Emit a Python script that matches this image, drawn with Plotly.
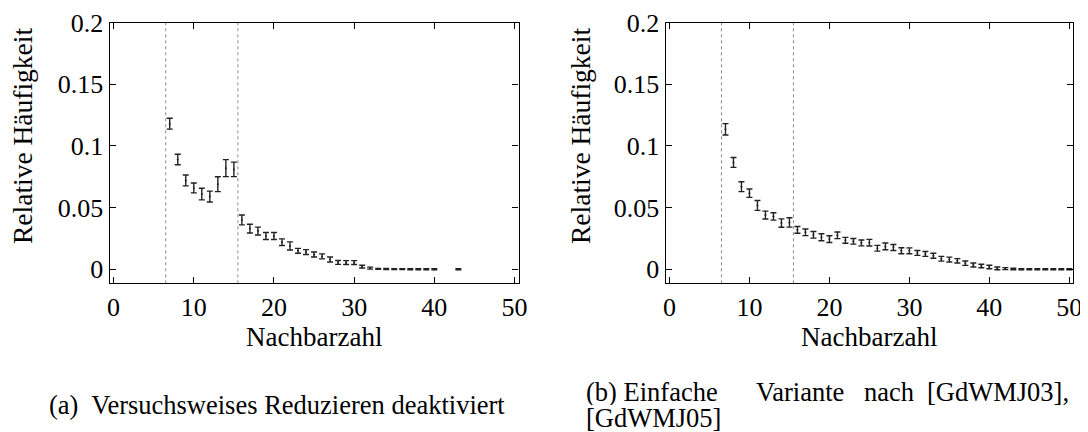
import plotly.graph_objects as go

# ---------------- data ----------------
x_a = [7, 8, 9, 10, 11, 12, 13, 14, 15, 16, 17, 18, 19, 20, 21, 22, 23, 24, 25, 26,
       27, 28, 29, 30, 31, 32, 33, 34, 35, 36, 37, 38, 39, 40, 43]
y_a = [0.118, 0.089, 0.072, 0.066, 0.061, 0.059, 0.069, 0.082, 0.081, 0.040,
       0.033, 0.031, 0.027, 0.027, 0.022, 0.019, 0.015, 0.014, 0.012, 0.0105,
       0.008, 0.0056, 0.0055, 0.0055, 0.0022, 0.001, 0.0004, 0.0003, 0.0002, 0.0002,
       0.0001, 0.0001, 0.0001, 0.0001, 0.0001]
e_a = [0.0044, 0.0043, 0.0044, 0.004, 0.0047, 0.0044, 0.006, 0.0069, 0.0059, 0.004,
       0.0036, 0.0032, 0.0028, 0.0028, 0.0027, 0.0033, 0.002, 0.002, 0.002, 0.002,
       0.002, 0.0016, 0.0016, 0.0016, 0.0011, 0.0008, 0.0004, 0.0004, 0.0004, 0.0004,
       0.0004, 0.0004, 0.0004, 0.0004, 0.0004]

x_b = list(range(7, 51))
y_b = [0.1135, 0.0866, 0.067, 0.0617, 0.0518, 0.044, 0.0429, 0.0375, 0.038, 0.032,
       0.030, 0.028, 0.026, 0.0245, 0.0276, 0.0235, 0.0227, 0.0214, 0.0216, 0.0171,
       0.0186, 0.0177, 0.0151, 0.015, 0.0133, 0.0125, 0.011, 0.0086, 0.0079, 0.0069,
       0.005, 0.0035, 0.0027, 0.0019, 0.0008, 0.0006, 0.0003, 0.0001, 0.0001, 0.0001,
       0.0001, 0.0001, 0.0001, 0.0001]
e_b = [0.0046, 0.004, 0.004, 0.0034, 0.004, 0.0032, 0.003, 0.0034, 0.0038, 0.0027,
       0.0027, 0.0027, 0.0028, 0.0027, 0.0027, 0.0024, 0.0023, 0.0024, 0.0027, 0.0023,
       0.0027, 0.0024, 0.0024, 0.0024, 0.002, 0.002, 0.002, 0.0019, 0.002, 0.0018,
       0.0018, 0.0016, 0.0014, 0.0014, 0.0011, 0.0008, 0.0006, 0.0004, 0.0004, 0.0004,
       0.0004, 0.0004, 0.0004, 0.0004]

phase_lines = [6.5, 15.5]
x_ticks = [0, 10, 20, 30, 40, 50]
y_ticks = [0, 0.05, 0.1, 0.15, 0.2]
y_tick_text = ["0", "0.05", "0.1", "0.15", "0.2"]
x_title = "Nachbarzahl"
y_title = "Relative Häufigkeit"
caption_a = "(a)  Versuchsweises Reduzieren deaktiviert"
caption_b_words = ["(b) Einfache", "Variante", "nach", "[GdWMJ03],"]
caption_b_line2 = "[GdWMJ05]"

W, H = 1088, 432
OFF = 8  # page body margin that shifts the figure
FONT = "Liberation Serif"
FS = 26
INK = "#222222"

fig = go.Figure()
for xs, ys, es, xa, ya in [(x_a, y_a, e_a, "x", "y"), (x_b, y_b, e_b, "x2", "y2")]:
    fig.add_trace(go.Scatter(
        x=xs, y=ys, mode="markers", xaxis=xa, yaxis=ya,
        marker=dict(size=2, color=INK),
        error_y=dict(type="data", array=es, visible=True, color=INK,
                     thickness=1.4, width=3),
        showlegend=False, hoverinfo="skip"))

def px_x(p):
    return (p - OFF) / W

def px_y(p):
    return 1 - (p - OFF) / H

ydom = [px_y(283.3), px_y(22.5)]
axis_common = dict(showline=True, linecolor="black", linewidth=1.3, mirror="ticks",
                   ticks="inside", ticklen=6, tickwidth=1.2, tickcolor="black",
                   showgrid=False, zeroline=False, automargin=False,
                   tickfont=dict(family=FONT, size=FS, color="black"))
xr = [-0.5, 50.5]
yr = [-0.0113, 0.2]

fig.update_layout(
    template="none",
    width=W, height=H, margin=dict(l=0, r=0, t=0, b=0, pad=0),
    paper_bgcolor="white", plot_bgcolor="white",
    font=dict(family=FONT, size=FS, color="black"),
    xaxis=dict(domain=[px_x(109.6), px_x(518.5)], range=xr, tickvals=x_ticks,
               anchor="y", **axis_common),
    yaxis=dict(domain=ydom, range=yr, tickvals=y_ticks, ticktext=y_tick_text,
               anchor="x", **axis_common),
    xaxis2=dict(domain=[px_x(665.5), px_x(1073.3)], range=xr, tickvals=x_ticks,
                anchor="y2", **axis_common),
    yaxis2=dict(domain=ydom, range=yr, tickvals=y_ticks, ticktext=y_tick_text,
                anchor="x2", **axis_common),
)

shapes = []
for xa in ["x", "x2"]:
    ya = "y" if xa == "x" else "y2"
    for v in phase_lines:
        shapes.append(dict(type="line", xref=xa, yref=ya + " domain", x0=v, x1=v,
                           y0=0, y1=1, line=dict(color="#888888", width=1, dash="dot"),
                           layer="below"))
fig.update_layout(shapes=shapes)

ann = []
titlefont = dict(family=FONT, size=27, color="black")
capfont = dict(family=FONT, size=26.5, color="black")
# axis titles
for cx, ycx in [(314, 22), (869, 580)]:
    ann.append(dict(text=x_title, x=px_x(cx), y=px_y(337), xref="paper", yref="paper",
                    showarrow=False, font=titlefont, xanchor="center", yanchor="middle"))
    ann.append(dict(text=y_title, x=px_x(ycx), y=px_y(136), xref="paper", yref="paper",
                    showarrow=False, font=dict(family=FONT, size=27.5, color="black"),
                    textangle=-90, xanchor="center", yanchor="middle"))
# captions
ann.append(dict(text=caption_a, x=px_x(277), y=px_y(405), xref="paper", yref="paper",
                showarrow=False, font=capfont, xanchor="center", yanchor="middle"))
for word, x0, anchor in zip(caption_b_words, [585, 800, 889, 1070],
                            ["left", "center", "center", "right"]):
    ann.append(dict(text=word, x=px_x(x0), y=px_y(392), xref="paper", yref="paper",
                    showarrow=False, font=capfont, xanchor=anchor, yanchor="middle",
                    borderpad=0, height=26, valign="middle"))
ann.append(dict(text=caption_b_line2, x=px_x(585), y=px_y(418), xref="paper", yref="paper",
                showarrow=False, font=capfont, xanchor="left", yanchor="middle",
                borderpad=0, height=26, valign="middle"))
fig.update_layout(annotations=ann)

fig.write_html("out.html")
